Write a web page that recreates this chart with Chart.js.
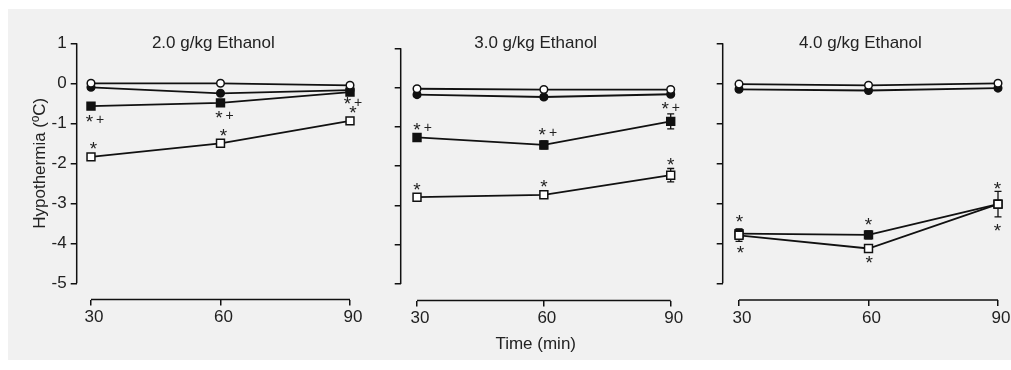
<!DOCTYPE html>
<html><head><meta charset="utf-8">
<script src="https://cdn.jsdelivr.net/npm/chart.js@4/dist/chart.umd.min.js"></script>
<style>
html,body{margin:0;padding:0;background:#fff;width:1011px;height:370px;overflow:hidden;}
#bg{position:absolute;left:8px;top:9px;width:1003px;height:351px;background:#f1f1f1;}
canvas{position:absolute;top:9px;}
</style></head><body>
<div id="bg"></div>
<canvas id="c1" width="362" height="351" style="left:8px"></canvas>
<canvas id="c2" width="320" height="351" style="left:370px"></canvas>
<canvas id="c3" width="321" height="351" style="left:690px"></canvas>
<script>
// ---------- DATA ----------
const timePoints = [30, 60, 90];
const xTicks = [30, 60, 90];
const yTicks = [1, 0, -1, -2, -3, -4, -5];
const panelTitles = ['2.0 g/kg Ethanol', '3.0 g/kg Ethanol', '4.0 g/kg Ethanol'];
const yAxisTitle = 'Hypothermia (ºC)';
const xAxisTitle = 'Time (min)';

// 2.0 g/kg
const p1OpenCircle   = [0.00, 0.00, -0.05];
const p1FilledCircle = [-0.10, -0.25, -0.17];
const p1FilledSquare = [-0.57, -0.49, -0.22];
const p1OpenSquare   = [-1.84, -1.50, -0.94];
const p1OpenCircleErr   = [0.05, 0.05, 0.05];
const p1FilledCircleErr = [0.05, 0.05, 0.05];
const p1FilledSquareErr = [0.08, 0.08, 0.08];
const p1OpenSquareErr   = [0.08, 0.08, 0.08];
const p1FilledSquareSig = ['*+', '*+', '*+'];
const p1OpenSquareSig   = ['*', '*', '*'];

// 3.0 g/kg
const p2OpenCircle   = [-0.03, -0.05, -0.05];
const p2FilledCircle = [-0.18, -0.24, -0.17];
const p2FilledSquare = [-1.27, -1.46, -0.86];
const p2OpenSquare   = [-2.79, -2.73, -2.23];
const p2OpenCircleErr   = [0.05, 0.05, 0.05];
const p2FilledCircleErr = [0.05, 0.05, 0.05];
const p2FilledSquareErr = [0.10, 0.10, 0.19];
const p2OpenSquareErr   = [0.08, 0.08, 0.17];
const p2FilledSquareSig = ['*+', '*+', '*+'];
const p2OpenSquareSig   = ['*', '*', '*'];

// 4.0 g/kg
const p3OpenCircle   = [-0.02, -0.05, 0.00];
const p3FilledCircle = [-0.15, -0.18, -0.12];
const p3FilledSquare = [-3.76, -3.79, -3.02];
const p3OpenSquare   = [-3.80, -4.13, -3.02];
const p3OpenCircleErr   = [0.05, 0.05, 0.05];
const p3FilledCircleErr = [0.05, 0.05, 0.05];
const p3FilledSquareErr = [0.12, 0.10, 0.10];
const p3OpenSquareErr   = [0.15, 0.08, 0.32];
const p3FilledSquareSig = ['*', '*', '*'];
const p3OpenSquareSig   = ['*', '*', '*'];

// ---------- STYLE ----------
const FONT = "'Liberation Sans', Arial, sans-serif";
const INK = '#111';
const TXT = '#222';
Chart.defaults.font.family = FONT;
Chart.defaults.font.size = 17;
Chart.defaults.color = TXT;

function drawSig(ctx, text, cx, cy) {
  ctx.save();
  ctx.fillStyle = TXT;
  ctx.textBaseline = 'middle';
  ctx.textAlign = 'left';
  const chars = text.split('');
  const gap = 3;
  const fontFor = c => (c === '*' ? '19px ' : '14px ') + FONT;
  const widths = chars.map(c => { ctx.font = fontFor(c); return ctx.measureText(c).width; });
  const total = widths.reduce((a, b) => a + b, 0) + gap * (chars.length - 1);
  let x = cx - total / 2;
  chars.forEach((c, i) => {
    ctx.font = fontFor(c);
    ctx.fillText(c, x, cy + (c === '*' ? 3.5 : 1.5));
    x += widths[i] + gap;
  });
  ctx.restore();
}

const deco = {
  id: 'deco',
  beforeDatasetsDraw(chart, args, o) {
    const {ctx} = chart;
    const xs = chart.scales.x, ys = chart.scales.y;
    ctx.save();
    ctx.strokeStyle = INK;
    ctx.lineWidth = 1.5;
    // axis lines
    ctx.beginPath();
    ctx.moveTo(chart.chartArea.left, ys.getPixelForValue(yTicks[0]));
    ctx.lineTo(chart.chartArea.left, ys.getPixelForValue(yTicks[yTicks.length - 1]));
    ctx.moveTo(xs.getPixelForValue(xTicks[0]), chart.chartArea.bottom);
    ctx.lineTo(xs.getPixelForValue(xTicks[xTicks.length - 1]), chart.chartArea.bottom);
    ctx.stroke();
    // error bars
    ctx.lineWidth = 1.3;
    chart.data.datasets.forEach(d => {
      d.data.forEach((pt, i) => {
        const e = d.errs[i];
        const px = xs.getPixelForValue(pt.x);
        const y1 = ys.getPixelForValue(pt.y + e), y2 = ys.getPixelForValue(pt.y - e);
        ctx.beginPath();
        ctx.moveTo(px, y1); ctx.lineTo(px, y2);
        ctx.moveTo(px - 3.5, y1); ctx.lineTo(px + 3.5, y1);
        ctx.moveTo(px - 3.5, y2); ctx.lineTo(px + 3.5, y2);
        ctx.stroke();
      });
    });
    ctx.restore();
  },
  afterDraw(chart, args, o) {
    const {ctx, chartArea} = chart;
    const xs = chart.scales.x, ys = chart.scales.y;
    ctx.save();
    ctx.fillStyle = TXT;
    ctx.font = '17px ' + FONT;
    ctx.textAlign = 'center';
    ctx.textBaseline = 'alphabetic';
    ctx.fillText(o.title, (chartArea.left + chartArea.right) / 2, o.titleY);
    if (o.yTitle) {
      ctx.save();
      const cy = (ys.getPixelForValue(yTicks[0]) + ys.getPixelForValue(yTicks[yTicks.length - 1])) / 2;
      ctx.translate(o.yTitleX, cy);
      ctx.rotate(-Math.PI / 2);
      ctx.textBaseline = 'middle';
      ctx.fillText(o.yTitle, 0, 0);
      ctx.restore();
    }
    o.sigs.forEach(s => {
      const d = chart.data.datasets[s.ds];
      s.marks.forEach((m, i) => {
        if (!m) return;
        const pt = d.data[i];
        drawSig(ctx, m, xs.getPixelForValue(pt.x) + s.off[i][0], ys.getPixelForValue(pt.y) + s.off[i][1]);
      });
    });
    ctx.restore();
  }
};

function ds(vals, errs, style, r, fill) {
  return {
    data: timePoints.map((t, i) => ({x: t, y: vals[i]})),
    errs: errs,
    pointStyle: style, pointRadius: r,
    pointBackgroundColor: fill, pointBorderColor: INK, pointBorderWidth: 1.5,
    borderColor: INK, borderWidth: 1.8, showLine: true, fill: false, tension: 0, clip: false
  };
}

function buildPanel(id, p) {
  return new Chart(document.getElementById(id), {
    type: 'line',
    data: {
      datasets: [
        ds(p.openCircle, p.openCircleErr, 'circle', 3.8, '#fff'),
        ds(p.filledCircle, p.filledCircleErr, 'circle', 3.8, INK),
        ds(p.openSquare, p.openSquareErr, 'rect', 5.6, '#fff'),
        ds(p.filledSquare, p.filledSquareErr, 'rect', 5.6, INK)
      ]
    },
    options: {
      responsive: false, animation: false, devicePixelRatio: 1, events: [],
      layout: {padding: {left: 0, top: p.padTop, right: p.padRight, bottom: 0}},
      plugins: {
        legend: {display: false}, tooltip: {enabled: false}, title: {display: false},
        deco: {title: p.title, titleY: 38.5, yTitle: p.yTitle, yTitleX: 32,
               sigs: [{ds: 3, marks: p.fsSig, off: p.fsOff}, {ds: 2, marks: p.osSig, off: p.osOff}]}
      },
      scales: {
        x: {
          type: 'linear', min: p.xMin, max: 90,
          afterBuildTicks: s => { s.ticks = xTicks.map(v => ({value: v})); },
          afterFit: s => { s.height = p.xHeight; },
          border: {display: false},
          grid: {drawOnChartArea: false, drawTicks: true, tickLength: 6, color: INK, lineWidth: 1.5},
          ticks: {padding: 2, labelOffset: 3, color: TXT, font: {size: 17}, maxRotation: 0, callback: v => String(v)},
          title: p.xTitle ? {display: true, text: p.xTitle, color: TXT, font: {size: 17}, padding: {top: 0, bottom: 5}} : {display: false}
        },
        y: {
          type: 'linear', min: p.yMin, max: 1,
          afterBuildTicks: s => { s.ticks = yTicks.map(v => ({value: v})); },
          afterFit: s => { s.width = p.yWidth; },
          border: {display: false},
          grid: {drawOnChartArea: false, drawTicks: true, tickLength: 6, color: INK, lineWidth: 1.5},
          ticks: {display: p.yLabels, padding: 4, color: TXT, font: {size: 17}, callback: v => String(v)}
        }
      }
    },
    plugins: [deco]
  });
}

buildPanel('c1', {
  title: panelTitles[0], yTitle: yAxisTitle, yLabels: true, xTitle: null,
  openCircle: p1OpenCircle, filledCircle: p1FilledCircle, filledSquare: p1FilledSquare, openSquare: p1OpenSquare,
  openCircleErr: p1OpenCircleErr, filledCircleErr: p1FilledCircleErr, filledSquareErr: p1FilledSquareErr, openSquareErr: p1OpenSquareErr,
  fsSig: p1FilledSquareSig, osSig: p1OpenSquareSig,
  fsOff: [[4, 13], [4, 12], [3, 9.5]], osOff: [[2.5, -11], [3, -10], [3, -11]],
  padTop: 34.3, padRight: 20, yWidth: 68.7, xHeight: 60.5, xMin: 26.69, yMin: -5.405
});
buildPanel('c2', {
  title: panelTitles[1], yTitle: null, yLabels: false, xTitle: xAxisTitle,
  openCircle: p2OpenCircle, filledCircle: p2FilledCircle, filledSquare: p2FilledSquare, openSquare: p2OpenSquare,
  openCircleErr: p2OpenCircleErr, filledCircleErr: p2FilledCircleErr, filledSquareErr: p2FilledSquareErr, openSquareErr: p2OpenSquareErr,
  fsSig: p2FilledSquareSig, osSig: p2OpenSquareSig,
  fsOff: [[5.5, -10.5], [4, -13], [0, -15]], osOff: [[0, -10], [0, -11], [0, -13]],
  padTop: 39.3, padRight: 19.3, yWidth: 30.7, xHeight: 59.5, xMin: 26.14, yMin: -5.42
});
buildPanel('c3', {
  title: panelTitles[2], yTitle: null, yLabels: false, xTitle: null,
  openCircle: p3OpenCircle, filledCircle: p3FilledCircle, filledSquare: p3FilledSquare, openSquare: p3OpenSquare,
  openCircleErr: p3OpenCircleErr, filledCircleErr: p3FilledCircleErr, filledSquareErr: p3FilledSquareErr, openSquareErr: p3OpenSquareErr,
  fsSig: p3FilledSquareSig, osSig: p3OpenSquareSig,
  fsOff: [[0.5, -14], [0, -12.5], [-0.5, -17.5]], osOff: [[1.5, 15], [0.7, 12], [-0.5, 24.5]],
  padTop: 34.3, padRight: 13, yWidth: 32.7, xHeight: 60, xMin: 26.22, yMin: -5.4175
});
</script>
</body></html>
